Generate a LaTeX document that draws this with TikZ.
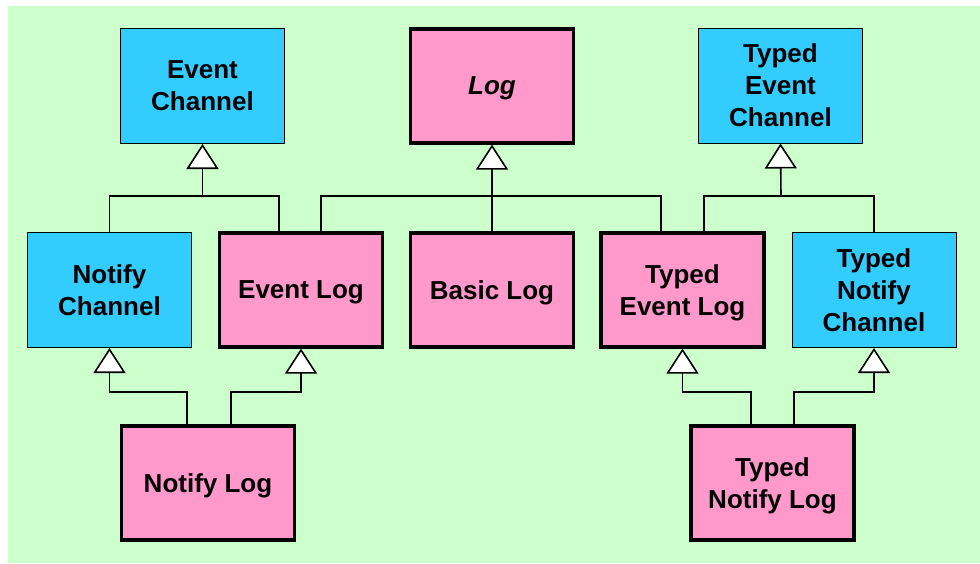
\documentclass[tikz,border=0pt]{standalone}
\usepackage{fontspec}
\setmainfont{Liberation Sans}
\usetikzlibrary{arrows.meta}
\definecolor{bggreen}{HTML}{CCFFCC}
\definecolor{boxblue}{HTML}{33CCFF}
\definecolor{boxpink}{HTML}{FF99CC}
\tikzset{
  txt/.style={font=\fontsize{26}{32}\selectfont\bfseries, align=center, inner sep=0pt, text depth=0pt},
  bluebox/.style={txt, rectangle, draw=black, line width=1pt, fill=boxblue, minimum width=164pt, minimum height=115pt},
  pinkbox/.style={txt, rectangle, draw=black, line width=3.2pt, fill=boxpink, minimum width=163pt, minimum height=114pt},
  conn/.style={draw=black, line width=1.6pt},
  inh/.style={conn, -{Triangle[length=25pt, width=32pt, fill=white]}}
}
\begin{document}
\begin{tikzpicture}[x=1pt,y=-1pt]
\useasboundingbox (0,0) rectangle (980,563);
\fill[bggreen] (8,6) rectangle (980,563);

% top row
\node[bluebox] (ec) at (202.5,86) {Event\\Channel};
\node[pinkbox] (log) at (492,86) {\textit{Log}};
\node[bluebox] (tec) at (780.5,85.5) {Typed\\Event\\Channel};

% middle row
\node[bluebox] (nc) at (109.5,290) {Notify\\Channel};
\node[pinkbox] (el) at (301,290) {Event Log};
\node[pinkbox] (bl) at (492,290) {Basic Log};
\node[pinkbox] (tel) at (682.5,290) {Typed\\Event Log};
\node[bluebox] (tnc) at (874,290) {Typed\\Notify\\Channel};

% bottom row
\node[pinkbox, minimum width=173pt] (nl) at (208,483) {Notify Log};
\node[pinkbox] (tnl) at (772.5,483) {Typed\\Notify Log};

% bus levels
\coordinate (busA) at (202.5,196);
\coordinate (busB) at (492,196);
\coordinate (busC) at (781,196);
\coordinate (lvl) at (0,392);

% Event Channel hierarchy
\draw[conn] (nc.north) |- ([xshift=-22pt]el.north |- busA) -- ([xshift=-22pt]el.north);
\draw[inh] (busA) -- (ec.south);

% Log hierarchy
\draw[conn] ([xshift=20pt]el.north) |- ([xshift=-21.5pt]tel.north |- busB) -- ([xshift=-21.5pt]tel.north);
\draw[inh] (bl.north) -- (log.south);

% Typed Event Channel hierarchy
\draw[conn] ([xshift=21.5pt]tel.north) |- (tnc.north |- busC) -- (tnc.north);
\draw[inh] (busC) -- (tec.south);

% Notify Log
\draw[inh] ([xshift=-21pt]nl.north) |- (nc.south |- lvl) -- (nc.south);
\draw[inh] ([xshift=23pt]nl.north) |- (el.south |- lvl) -- (el.south);

% Typed Notify Log
\draw[inh] ([xshift=-21.5pt]tnl.north) |- (tel.south |- lvl) -- (tel.south);
\draw[inh] ([xshift=21.5pt]tnl.north) |- (tnc.south |- lvl) -- (tnc.south);
\end{tikzpicture}
\end{document}
